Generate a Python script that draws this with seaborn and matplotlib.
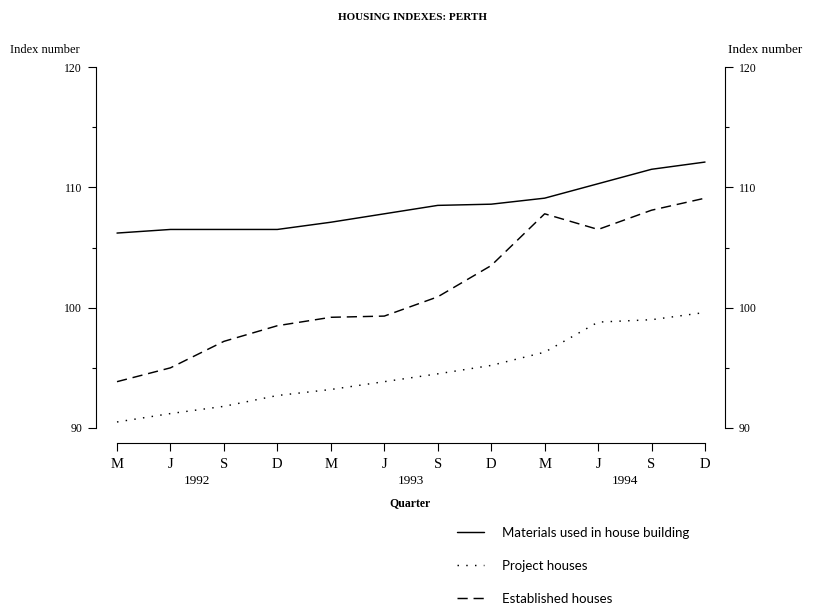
import matplotlib
matplotlib.use('Agg')
import numpy as np
import pandas as pd
import matplotlib.pyplot as plt
import seaborn as sns

# data (quarterly index numbers, Perth)
quarters = ['M', 'J', 'S', 'D'] * 3
years = ['1992', '1993', '1994']
materials = [106.2, 106.5, 106.5, 106.5, 107.1, 107.8, 108.5, 108.6, 109.1, 110.3, 111.5, 112.1]
project = [90.5, 91.2, 91.8, 92.7, 93.2, 93.85, 94.5, 95.2, 96.3, 98.8, 99.0, 99.6]
established = [93.85, 95.0, 97.2, 98.5, 99.2, 99.3, 100.9, 103.5, 107.8, 106.5, 108.1, 109.1]
series_names = ['Materials used in house building', 'Project houses', 'Established houses']

sns.set_style('ticks')
plt.rcParams['font.family'] = ['Liberation Serif', 'DejaVu Serif']
plt.rcParams['text.color'] = 'black'
plt.rcParams['axes.edgecolor'] = 'black'
plt.rcParams['xtick.color'] = 'black'
plt.rcParams['ytick.color'] = 'black'
plt.rcParams['axes.labelcolor'] = 'black'

df = pd.DataFrame({
    'pos': np.tile(np.arange(len(quarters)), 3),
    'value': materials + project + established,
    'series': np.repeat(series_names, len(quarters)),
})

fig = plt.figure(figsize=(8.23, 6.06), dpi=100)
ax = fig.add_axes([96 / 823, 1 - 428 / 606, (725 - 96) / 823, (428 - 67) / 606])

sns.lineplot(data=df, x='pos', y='value', style='series', style_order=series_names,
             dashes={series_names[0]: '', series_names[1]: (1, 5), series_names[2]: (7, 4)},
             color='black', linewidth=1.05, legend=False, ax=ax)

ax.set_xlim(-0.393, 11.374)
ax.set_ylim(90, 120)
ax.set_yticks([90, 100, 110, 120])
ax.set_yticks([95, 105, 115], minor=True)
ax.tick_params(axis='y', which='major', direction='out', length=6, width=0.8, labelsize=8.5, pad=4)
ax.tick_params(axis='y', which='minor', direction='out', length=3, width=0.8)

ax.set_xticks(range(len(quarters)), quarters)
ax.set_xticks([1.5, 5.5, 9.5], years, minor=True)
ax.tick_params(axis='x', which='major', direction='out', length=6, width=0.8, pad=5, labelsize=10.5)
ax.tick_params(axis='x', which='minor', length=0, pad=23, labelsize=9.5)
plt.setp(ax.get_xticklabels(), fontweight='bold')
plt.setp(ax.get_xticklabels(minor=True), fontweight='bold')

for s in ['top', 'right']:
    ax.spines[s].set_visible(False)
ax.spines['bottom'].set_position(('outward', 10.8))
ax.spines['bottom'].set_bounds(0, 11)
ax.spines['left'].set_linewidth(0.8)
ax.spines['bottom'].set_linewidth(0.8)

ax.set_xlabel('Quarter', fontweight='bold', fontsize=8.5, labelpad=7)
ax.set_ylabel('')

ax2 = ax.twinx()
ax2.set_ylim(90, 120)
ax2.set_yticks([90, 100, 110, 120])
ax2.set_yticks([95, 105, 115], minor=True)
ax2.tick_params(axis='y', which='major', direction='out', length=6, width=0.8, labelsize=8.5, pad=4)
ax2.tick_params(axis='y', which='minor', direction='out', length=3, width=0.8)
for s in ['top', 'left', 'bottom']:
    ax2.spines[s].set_visible(False)
ax2.spines['right'].set_linewidth(0.8)

fig.text(412 / 823, 1 - 17 / 606, 'HOUSING INDEXES: PERTH', ha='center', va='center',
         fontweight='bold', fontsize=8)
fig.text(10 / 823, 1 - 50 / 606, 'Index number', ha='left', va='center', fontsize=9)
fig.text(728 / 823, 1 - 50 / 606, 'Index number', ha='left', va='center', fontsize=9.5)

fig.legend(handles=ax.lines[:3], labels=series_names, loc='upper left',
           bbox_to_anchor=(445 / 823, 1 - 515 / 606), frameon=False,
           prop={'family': 'Lato', 'size': 9.5}, handlelength=2.05, handletextpad=1.37,
           labelspacing=1.6)

fig.savefig('out.png', dpi=100)
